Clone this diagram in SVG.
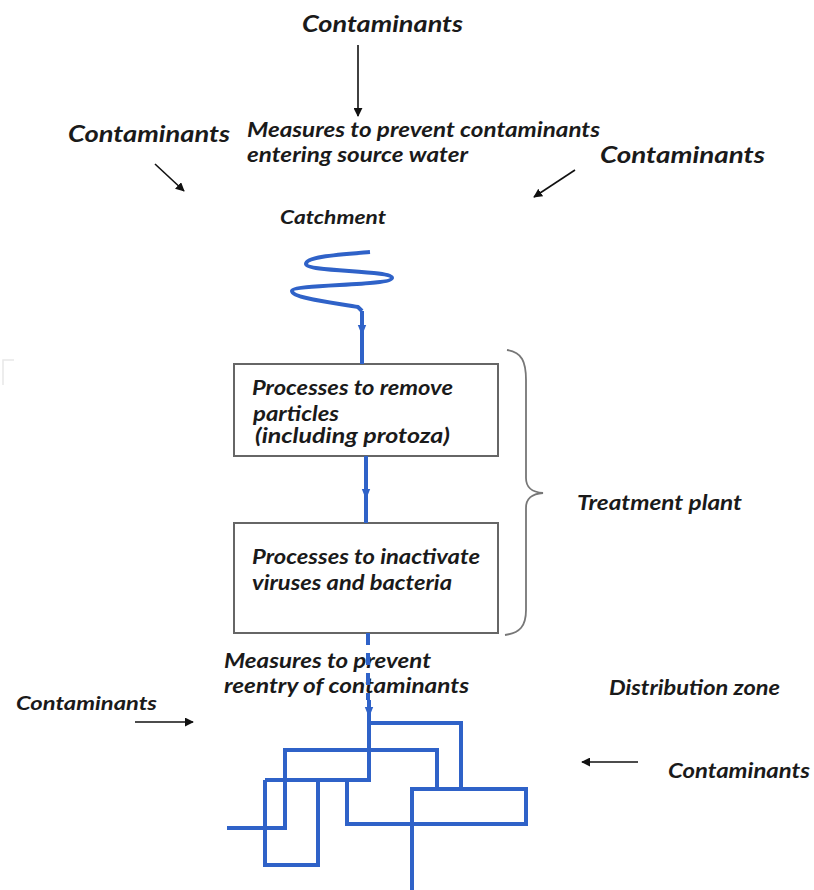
<svg xmlns="http://www.w3.org/2000/svg" width="814" height="890" viewBox="0 0 814 890">
<defs>
<style>
.t{font-family:Lato,"Open Sans","Liberation Sans",sans-serif;font-weight:bold;font-style:italic;fill:#1a1a1a}
.big{font-size:22px}
.mid{font-size:20px}
.sm{font-size:19px}
.pipe{fill:none;stroke:#2f62c8;stroke-width:4;stroke-linejoin:miter;stroke-linecap:butt}
.box{fill:#fff;stroke:#666;stroke-width:2}
.arr{stroke:#111;stroke-width:1.6;fill:none}
.brace{fill:none;stroke:#777;stroke-width:1.8}
</style>
<marker id="ah" viewBox="0 0 10 10" refX="9" refY="5" markerWidth="9" markerHeight="9" orient="auto" markerUnits="userSpaceOnUse">
<path d="M0,0 L10,5 L0,10 z" fill="#111"/>
</marker>
<marker id="bh" viewBox="0 0 10 10" refX="5" refY="5" markerWidth="11" markerHeight="11" orient="auto" markerUnits="userSpaceOnUse">
<path d="M0,1 L10,5 L0,9 z" fill="#2f62c8"/>
</marker>
</defs>
<rect width="814" height="890" fill="#fff"/>
<path d="M14,360 L3,360 L3,385" fill="none" stroke="#e8e8e8" stroke-width="1.5"/>
<g id="labels">
<text class="t big" x="302" y="32" textLength="161" lengthAdjust="spacingAndGlyphs">Contaminants</text>
<text class="t big" x="68" y="142" textLength="162" lengthAdjust="spacingAndGlyphs">Contaminants</text>
<text class="t big" x="600" y="163" textLength="165" lengthAdjust="spacingAndGlyphs">Contaminants</text>
<text class="t mid" x="247" y="137" textLength="353" lengthAdjust="spacingAndGlyphs">Measures to prevent contaminants</text>
<text class="t mid" x="247" y="162" textLength="221" lengthAdjust="spacingAndGlyphs">entering source water</text>
<text class="t sm" x="280" y="224" textLength="106" lengthAdjust="spacingAndGlyphs">Catchment</text>
<text class="t mid" x="577" y="510" textLength="165" lengthAdjust="spacingAndGlyphs">Treatment plant</text>
<text class="t mid" x="224" y="668" textLength="207" lengthAdjust="spacingAndGlyphs">Measures to prevent</text>
<text class="t mid" x="224" y="693" textLength="245" lengthAdjust="spacingAndGlyphs">reentry of contaminants</text>
<text class="t sm" x="16" y="710" textLength="141" lengthAdjust="spacingAndGlyphs">Contaminants</text>
<text class="t mid" x="609" y="695" textLength="171" lengthAdjust="spacingAndGlyphs">Distribution zone</text>
<text class="t mid" x="668" y="778" textLength="142" lengthAdjust="spacingAndGlyphs">Contaminants</text>
</g>
<g id="catchment">
<path class="pipe" d="M370,252 C335,255 306,257 306,264 C306,272 392,270 392,278 C392,286 292,284 292,291 C292,299 345,304 358,307 L362,311"/>
</g>
<g id="box1">
<rect class="box" x="234" y="364" width="264" height="92"/>
<text class="t mid" x="252" y="395" textLength="201" lengthAdjust="spacingAndGlyphs">Processes to remove</text>
<text class="t mid" x="253" y="421" textLength="86" lengthAdjust="spacingAndGlyphs">particles</text>
<text class="t mid" x="255" y="443" textLength="195" lengthAdjust="spacingAndGlyphs">(including protoza)</text>
</g>
<g id="box2">
<rect class="box" x="234" y="523" width="264" height="110"/>
<text class="t mid" x="252" y="564" textLength="228" lengthAdjust="spacingAndGlyphs">Processes to inactivate</text>
<text class="t mid" x="252" y="590" textLength="200" lengthAdjust="spacingAndGlyphs">viruses and bacteria</text>
</g>
<g id="treatment-brace">
<path class="brace" d="M507,350 C522,352 526,362 526,380 L526,478 C526,488 532,492 543,493 C532,494 526,498 526,508 L526,610 C526,626 520,633 505,635"/>
</g>
<g id="distribution">
<path class="pipe" d="M369,723 L461,723 L461,789"/>
<path class="pipe" d="M285,828 L285,750 L437,750 L437,789"/>
<path class="pipe" d="M265,780 L369,780"/>
<path class="pipe" d="M265,780 L265,865 L318,865 L318,780"/>
<path class="pipe" d="M227,828 L287,828"/>
<path class="pipe" d="M347,780 L347,824 L526,824 L526,789 L412,789 L412,890"/>
</g>
<g id="connectors">
<line class="arr" x1="358" y1="45" x2="358" y2="116" marker-end="url(#ah)"/>
<line class="arr" x1="155" y1="164" x2="184" y2="191" marker-end="url(#ah)"/>
<line class="arr" x1="575" y1="170" x2="534" y2="197" marker-end="url(#ah)"/>
<line class="arr" x1="135" y1="722" x2="193" y2="722" marker-end="url(#ah)"/>
<line class="arr" x1="638" y1="762" x2="582" y2="762" marker-end="url(#ah)"/>
<path class="pipe" d="M362,311 L362,330" marker-end="url(#bh)"/>
<path class="pipe" d="M362,326 L362,364"/>
<path class="pipe" d="M366,456 L366,494" marker-end="url(#bh)"/>
<path class="pipe" d="M366,490 L366,523"/>
<path class="pipe" d="M368,633 L368,700" stroke-dasharray="12,8"/>
<path class="pipe" d="M369,700 L369,712" marker-end="url(#bh)"/>
<path class="pipe" d="M369,708 L369,782"/>
</g>
</svg>
